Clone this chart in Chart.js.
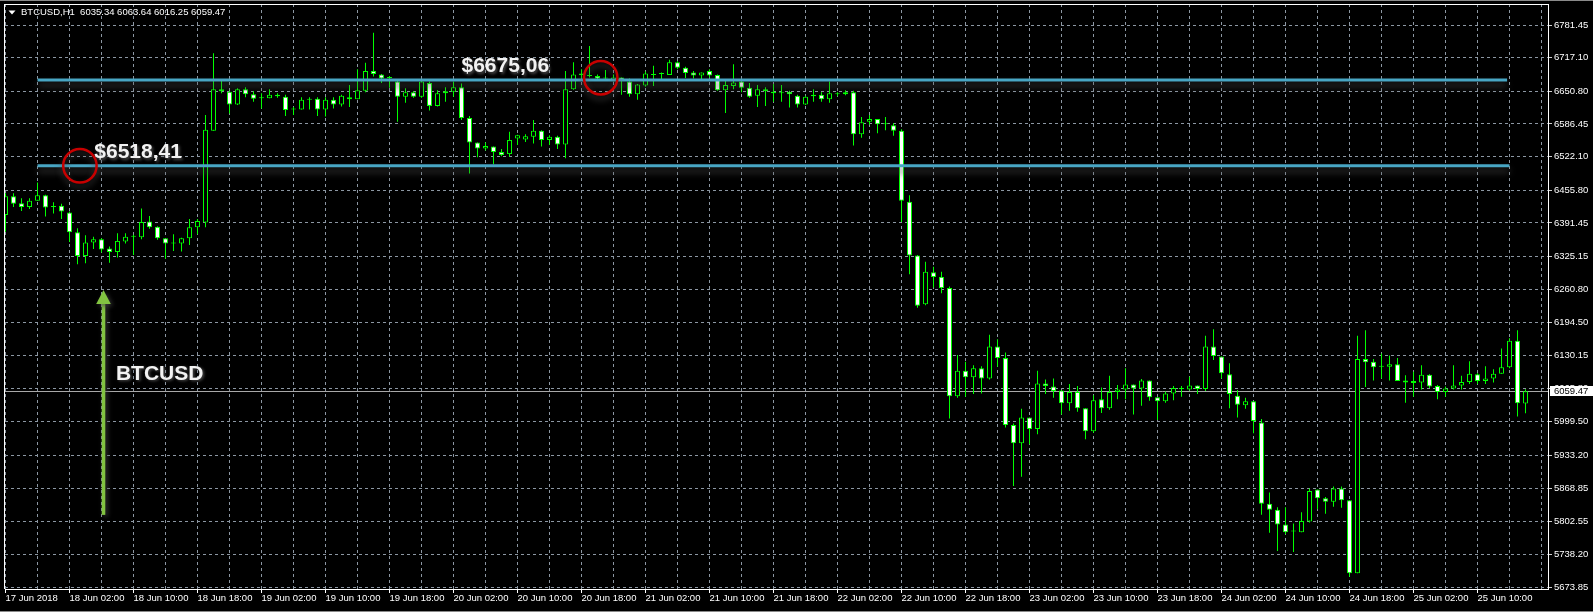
<!DOCTYPE html>
<html>
<head>
<meta charset="utf-8">
<script src="https://cdn.jsdelivr.net/npm/chart.js@4.4.0/dist/chart.umd.min.js"></script>
<style>
html,body{margin:0;padding:0;background:#000;overflow:hidden;}
canvas{display:block;}
</style>
</head>
<body>
<canvas id="c" width="1593" height="612"></canvas>
<script>
// ---------- DATA ----------
const headerText = 'BTCUSD,H1  6035.34 6063.64 6016.25 6059.47';

const xTickLabels = ['17 Jun 2018','18 Jun 02:00','18 Jun 10:00','18 Jun 18:00','19 Jun 02:00','19 Jun 10:00',
  '19 Jun 18:00','20 Jun 02:00','20 Jun 10:00','20 Jun 18:00','21 Jun 02:00','21 Jun 10:00','21 Jun 18:00',
  '22 Jun 02:00','22 Jun 10:00','22 Jun 18:00','23 Jun 02:00','23 Jun 10:00','23 Jun 18:00','24 Jun 02:00',
  '24 Jun 10:00','24 Jun 18:00','25 Jun 02:00','25 Jun 10:00'];

const yTickValues = [6781.45,6717.10,6650.80,6586.45,6522.10,6455.80,6391.45,6325.15,6260.80,6194.50,
  6130.15,6065.80,5999.50,5933.20,5868.85,5802.55,5738.20,5673.85];

const opens = [
6407,6444,6430,6423,6435,6446,6424,6425,6412,6373,
6326,6353,6359,6341,6334,6355,6364,6363,6394,6384,
6361,6351,6351,6361,6383,6392,6573,6655,6650,6625,
6655,6645,6637,6637,6641,6640,6615,6615,6634,6636,
6615,6634,6625,6635,6635,6652,6691,6684,6677,6670,
6640,6649,6640,6667,6622,6647,6650,6659,6598,6550,
6538,6542,6531,6527,6558,6556,6561,6573,6555,6561,
6546,6655,6686,6681,6681,6676,6673,6678,6670,6645,
6662,6683,6685,6683,6708,6697,6688,6682,6691,6683,
6653,6661,6670,6658,6642,6651,6650,6648,6650,6642,
6625,6641,6644,6635,6645,6645,6649,6566,6591,6596,
6586,6584,6573,6433,6327,6231,6294,6285,6263,6050,
6100,6087,6105,6085,6148,6125,5993,5957,6008,5985,
6075,6069,6061,6036,6058,6026,5981,6044,6026,6058,
6063,6073,6065,6081,6048,6040,6055,6065,6063,6071,
6064,6148,6128,6093,6051,6032,6040,5998,5838,5826,
5797,5783,5782,5803,5866,5849,5842,5868,5845,5701,
6123,6118,6108,6108,6113,6081,6076,6077,6092,6070,
6058,6065,6071,6078,6093,6080,6085,6094,6107,6159,
6035.34];

const highs = [
6450,6450,6440,6440,6471,6447,6432,6429,6414,6381,
6367,6364,6361,6345,6371,6371,6368,6420,6405,6385,
6361,6369,6362,6399,6399,6604,6726,6675,6652,6657,
6659,6651,6647,6655,6647,6644,6620,6639,6639,6639,
6639,6639,6644,6663,6694,6707,6766,6685,6681,6671,
6657,6651,6671,6670,6653,6659,6670,6666,6602,6550,
6550,6542,6537,6571,6565,6566,6594,6574,6564,6563,
6691,6708,6694,6740,6684,6693,6684,6678,6676,6665,
6690,6701,6688,6713,6710,6699,6691,6688,6694,6684,
6671,6704,6672,6667,6663,6659,6665,6663,6652,6644,
6642,6655,6649,6670,6649,6653,6652,6600,6604,6596,
6600,6588,6576,6446,6328,6315,6305,6295,6266,6131,
6118,6111,6109,6171,6162,6136,5996,6025,6008,6100,
6083,6085,6062,6074,6070,6026,6052,6067,6090,6072,
6105,6073,6084,6081,6048,6059,6070,6070,6088,6071,
6169,6182,6128,6115,6062,6047,6040,6005,5860,5831,
5831,5799,5821,5868,5866,5851,5872,5872,5845,6169,
6180,6123,6134,6130,6125,6091,6098,6111,6093,6072,
6069,6111,6090,6119,6095,6109,6103,6144,6164,6180,
6063.64];

const lows = [
6374,6423,6415,6419,6435,6404,6410,6399,6354,6310,
6312,6340,6333,6313,6323,6351,6328,6359,6380,6358,
6321,6336,6335,6348,6369,6383,6573,6647,6607,6624,
6639,6630,6617,6637,6638,6602,6604,6615,6615,6602,
6601,6617,6621,6620,6635,6649,6680,6667,6658,6591,
6628,6638,6638,6613,6621,6630,6640,6594,6489,6521,
6534,6507,6523,6522,6545,6551,6548,6542,6545,6537,
6519,6654,6676,6678,6673,6673,6670,6644,6640,6634,
6660,6661,6674,6683,6694,6677,6676,6672,6678,6652,
6608,6655,6649,6638,6620,6622,6630,6630,6619,6619,
6624,6630,6630,6628,6641,6643,6544,6559,6585,6568,
6574,6563,6393,6290,6224,6229,6264,6253,6006,6047,
6049,6054,6055,6083,6108,5988,5873,5891,5955,5975,
6054,6047,6014,6021,6019,5965,5978,6017,6023,6044,
6044,6014,6031,6041,6003,6037,6042,6049,6061,6054,
6060,6121,6085,6026,6008,6025,5977,5816,5781,5745,
5778,5743,5782,5801,5827,5818,5832,5830,5694,5701,
6068,6081,6085,6081,6080,6037,6049,6063,6066,6044,
6049,6063,6063,6074,6074,6074,6077,6094,6105,6010,
6016.25];

const closes = [
6444,6429,6423,6435,6446,6422,6423,6414,6373,6326,
6353,6359,6339,6334,6356,6364,6365,6393,6383,6361,
6351,6351,6361,6383,6395,6575,6655,6651,6625,6655,
6645,6636,6637,6644,6644,6614,6616,6634,6636,6615,
6634,6625,6642,6639,6653,6691,6685,6676,6677,6640,
6649,6640,6670,6622,6647,6651,6659,6598,6550,6538,
6543,6531,6525,6555,6564,6562,6573,6555,6561,6546,
6655,6684,6683,6681,6676,6676,6678,6673,6645,6664,
6686,6684,6686,6708,6697,6687,6682,6688,6682,6653,
6663,6668,6658,6640,6655,6655,6647,6647,6645,6625,
6640,6644,6635,6647,6646,6649,6566,6590,6596,6586,
6587,6573,6435,6327,6228,6295,6285,6263,6050,6100,
6087,6105,6085,6148,6125,5993,5957,6008,5985,6075,
6070,6060,6036,6058,6026,5981,6042,6026,6058,6063,
6073,6065,6081,6048,6040,6055,6066,6064,6071,6064,
6148,6129,6095,6054,6033,6040,6001,5838,5826,5797,
5782,5783,5804,5863,5849,5842,5868,5845,5701,6123,
6117,6107,6109,6113,6080,6077,6080,6092,6069,6058,
6065,6071,6078,6094,6080,6085,6094,6107,6159,6036,
6059.47];

const currentPrice = 6059.47;

// horizontal levels (bar index range, price)
const levelValues = [6673, 6504];
const levelStarts = [4.0, 4.0];
const levelEnds = [187.7, 188.0];

// annotations in data coordinates (bar index, price)
const noteTexts = ['$6675,06', '$6518,41', 'BTCUSD'];
const notePositions = [[57.0, 6688], [11.1, 6518.5], [13.8, 6082]];
const circleCenters = [[74.4, 6677.6], [9.3, 6504]];
const arrowBottom = [12.25, 5816];
const arrowTip = [12.25, 6259];

// ---------- CHART ----------
const FONT = "'Liberation Sans', Arial, sans-serif";
const GREEN = '#00ff00';
const GRID = '#8c97a3';

const barIdx = opens.map((_, i) => i);
const wickData = barIdx.map(i => ({x: i, y: [lows[i], highs[i]]}));
const bodyData = barIdx.map(i => ({x: i, y: [opens[i], closes[i]]}));
const levelData = levelValues.map((v, k) => [{x: levelStarts[k], y: v}, {x: levelEnds[k], y: v}]);

const Y_MAX = 6822.84, Y_MIN = 5669.91;

const decorPlugin = {
  id: 'decor',
  beforeDraw(chart) {
    const ctx = chart.ctx;
    ctx.save();
    ctx.fillStyle = '#000';
    ctx.fillRect(0, 0, chart.width, chart.height);
    ctx.fillStyle = '#8a8a8a';
    ctx.fillRect(0, 0, chart.width, 1);
    ctx.fillRect(0, chart.height - 1, chart.width, 1);
    ctx.restore();
  },
  beforeDatasetsDraw(chart) {
    const ctx = chart.ctx, a = chart.chartArea;
    const y = Math.round(chart.scales.y.getPixelForValue(currentPrice)) + 0.5;
    ctx.save();
    ctx.strokeStyle = '#a8a8a8';
    ctx.lineWidth = 1;
    ctx.beginPath();
    ctx.moveTo(a.left, y); ctx.lineTo(a.right, y);
    ctx.stroke();
    ctx.restore();
  },
  beforeDatasetDraw(chart, args) {
    if (args.meta.type === 'line') {
      const ctx = chart.ctx;
      ctx.save();
      ctx.shadowColor = 'rgba(75,75,75,0.85)';
      ctx.shadowBlur = 7;
      ctx.shadowOffsetY = 5;
    }
  },
  afterDatasetDraw(chart, args) {
    if (args.meta.type === 'line') chart.ctx.restore();
  },
  afterDraw(chart) {
    const ctx = chart.ctx, a = chart.chartArea;
    const sx = chart.scales.x, sy = chart.scales.y;
    ctx.save();
    // top & left frame
    ctx.fillStyle = '#ffffff';
    ctx.fillRect(a.left - 1, a.top, a.right - a.left + 1, 1);
    ctx.fillRect(a.left - 1, a.top, 1, a.bottom - a.top);

    // header
    ctx.fillStyle = '#ffffff';
    ctx.beginPath();
    ctx.moveTo(8.5, 10.5); ctx.lineTo(15.5, 10.5); ctx.lineTo(12, 14.5); ctx.closePath();
    ctx.fill();
    ctx.font = '9.5px ' + FONT;
    ctx.textBaseline = 'middle';
    ctx.textAlign = 'left';
    ctx.fillText(headerText, 21, 12.5);

    // current price box
    const py = sy.getPixelForValue(currentPrice);
    ctx.fillStyle = '#ffffff';
    ctx.fillRect(a.right + 2, Math.round(py) - 5, chart.width - a.right - 2, 10);
    ctx.fillStyle = '#000000';
    ctx.fillText(currentPrice.toFixed(2), a.right + 6, py + 0.5);

    // red circles
    ctx.save();
    ctx.shadowColor = 'rgba(70,70,70,0.8)';
    ctx.shadowBlur = 6;
    ctx.shadowOffsetY = 4;
    ctx.strokeStyle = '#c80000';
    ctx.lineWidth = 2.5;
    circleCenters.forEach(c => {
      ctx.beginPath();
      ctx.arc(sx.getPixelForValue(c[0]), sy.getPixelForValue(c[1]), 16.7, 0, Math.PI * 2);
      ctx.stroke();
    });
    ctx.restore();

    // green arrow
    ctx.save();
    ctx.shadowColor = 'rgba(70,70,70,0.8)';
    ctx.shadowBlur = 5;
    ctx.shadowOffsetX = 2;
    ctx.shadowOffsetY = 2;
    const ax = sx.getPixelForValue(arrowTip[0]);
    const ty = sy.getPixelForValue(arrowTip[1]);
    const by = sy.getPixelForValue(arrowBottom[1]);
    ctx.fillStyle = '#82c341';
    ctx.fillRect(ax - 1.8, ty + 12, 3.6, by - ty - 12);
    ctx.beginPath();
    ctx.moveTo(ax, ty); ctx.lineTo(ax + 7.3, ty + 14); ctx.lineTo(ax - 7.3, ty + 14); ctx.closePath();
    ctx.fill();
    ctx.restore();

    // annotation texts
    ctx.save();
    ctx.font = 'bold 21px ' + FONT;
    ctx.textBaseline = 'alphabetic';
    ctx.textAlign = 'left';
    ctx.shadowColor = 'rgba(110,110,110,0.7)';
    ctx.shadowBlur = 3;
    ctx.shadowOffsetX = 1.5;
    ctx.shadowOffsetY = 1.5;
    ctx.fillStyle = '#f2f2f2';
    noteTexts.forEach((t, k) => {
      ctx.fillText(t, sx.getPixelForValue(notePositions[k][0]), sy.getPixelForValue(notePositions[k][1]));
    });
    ctx.restore();
    ctx.restore();
  }
};

const labelFor = v => (Math.abs(v % 8) < 1e-9 && v / 8 < xTickLabels.length) ? xTickLabels[Math.round(v / 8)] : '';

new Chart(document.getElementById('c'), {
  type: 'bar',
  data: {
    datasets: [
      ...levelData.map(d => ({
        type: 'line', data: d, borderColor: '#48a6c4', borderWidth: 3,
        pointRadius: 0, tension: 0, fill: false, borderCapStyle: 'butt', order: 0
      })),
      {
        type: 'bar', data: bodyData, barThickness: 5, grouped: false, inflateAmount: 0,
        backgroundColor: c => (c.raw && c.raw.y[1] < c.raw.y[0]) ? '#ffffff' : '#000000',
        borderColor: GREEN, borderWidth: 1, borderSkipped: false, minBarLength: 1, order: 1
      },
      {
        type: 'bar', data: wickData, barThickness: 1, grouped: false, inflateAmount: 0,
        backgroundColor: GREEN, borderWidth: 0, order: 2
      }
    ]
  },
  options: {
    responsive: false,
    animation: false,
    events: [],
    layout: {padding: {left: 5, top: 4, right: 0, bottom: 0}},
    plugins: {legend: {display: false}, tooltip: {enabled: false}, title: {display: false}},
    scales: {
      x: {
        type: 'linear', position: 'bottom', min: -0.0625, max: 192.8125, offset: false,
        afterBuildTicks: s => { const t = []; for (let v = 0; v <= 192; v += 4) t.push({value: v}); s.ticks = t; },
        afterFit: s => { s.height = 23; s.paddingLeft = 0; s.paddingRight = 0; s.paddingTop = 0; s.paddingBottom = 0; },
        grid: {
          offset: false, color: GRID, lineWidth: 1, drawTicks: true, tickLength: 4, tickBorderDash: [],
          tickColor: c => (c.tick && labelFor(c.tick.value) !== '') ? '#ffffff' : 'rgba(0,0,0,0)'
        },
        border: {display: true, color: '#ffffff', width: 1, dash: [3, 3]},
        ticks: {
          autoSkip: false, maxRotation: 0, minRotation: 0, align: 'start', padding: 0,
          color: '#ffffff', font: {family: FONT, size: 9.5},
          callback: v => labelFor(v)
        }
      },
      y: {
        type: 'linear', position: 'right', min: Y_MIN, max: Y_MAX,
        afterBuildTicks: s => { s.ticks = yTickValues.map(v => ({value: v})); },
        afterFit: s => { s.width = 45; s.paddingLeft = 0; s.paddingRight = 0; s.paddingTop = 0; s.paddingBottom = 0; },
        grid: {color: GRID, lineWidth: 1, drawTicks: true, tickLength: 4, tickBorderDash: [], tickColor: '#d0d0d0'},
        border: {display: true, color: '#ffffff', width: 1, dash: [3, 3]},
        ticks: {
          autoSkip: false, padding: 2, color: '#ffffff', font: {family: FONT, size: 9.5},
          callback: v => Number(v).toFixed(2)
        }
      }
    }
  },
  plugins: [decorPlugin]
});
</script>
</body>
</html>
